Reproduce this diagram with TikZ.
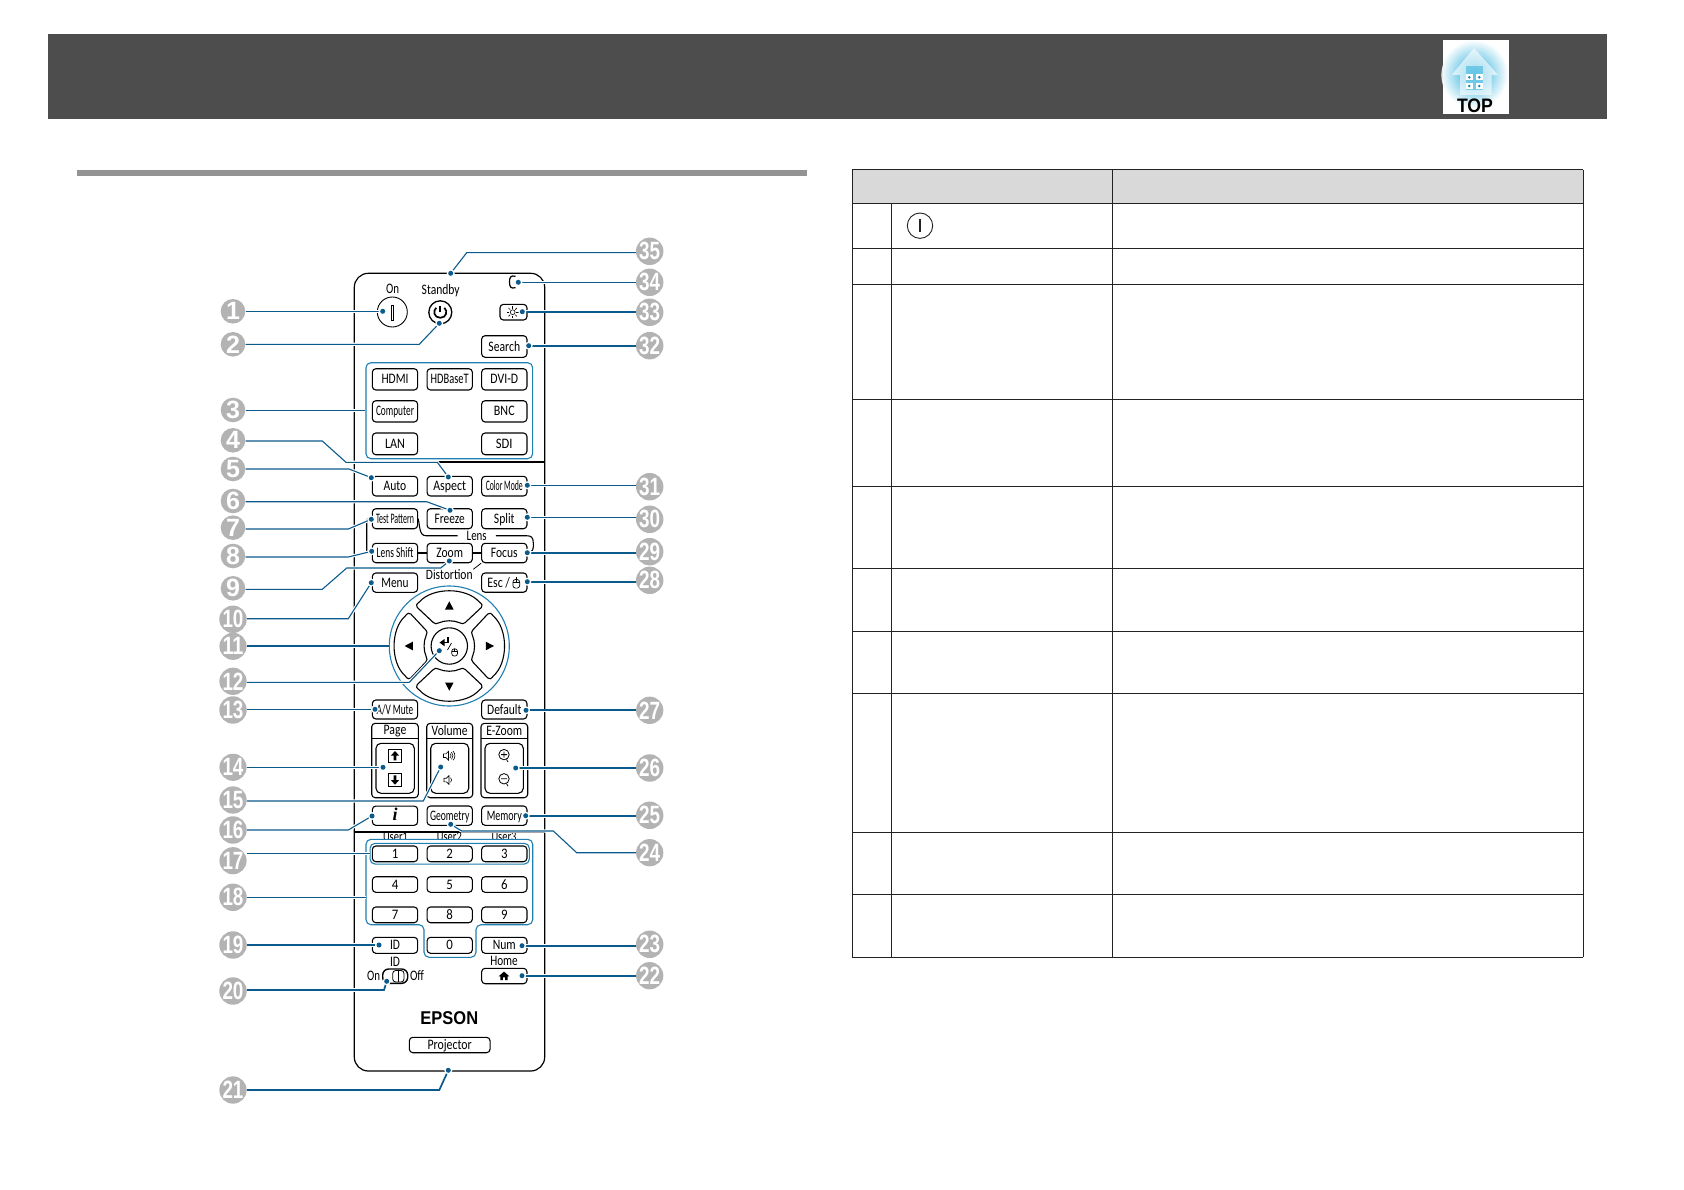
\documentclass[tikz,border=0pt]{standalone}
\usepackage{fontspec}
\setmainfont{Carlito}
\newfontfamily\arialb{Liberation Sans}[BoldFont={Liberation Sans Bold}]
\newfontfamily\serifb{Liberation Serif}
\usetikzlibrary{calc,shapes.geometric}
\definecolor{ldc}{HTML}{0B5A8C}
\definecolor{grpc}{HTML}{1F7FB0}
\definecolor{hdr}{HTML}{4D4D4D}
\definecolor{rulec}{HTML}{939393}
\definecolor{thead}{HTML}{D9D9D9}
\definecolor{tline}{HTML}{222222}
\definecolor{numc}{HTML}{B3B3B3}
\definecolor{topc}{HTML}{18A8D8}
\newcommand\lb[2]{\resizebox{#1pt}{\height}{#2}}
\tikzset{
  wire/.style={draw=black,line width=1.1pt},
  btnbase/.style={draw=black,fill=white,line width=1.1pt,rounded corners=3.5pt,inner sep=0pt,
    font=\fontsize{14.5}{14.5}\selectfont,text height=9pt,text depth=0pt},
  lab/.style={inner sep=0pt,font=\fontsize{14.5}{14.5}\selectfont,text height=9pt,text depth=0pt},
  grp/.style={draw=grpc,line width=1.1pt,rounded corners=5pt,inner sep=0pt},
  leader/.style={draw=ldc,line width=1.1pt,preaction={draw=white,line width=3.2pt}},
  leaderb/.style={draw=ldc,line width=1.7pt,preaction={draw=white,line width=3.6pt}},
  numcirc/.style={circle,fill=numc,minimum size=24.6pt,inner sep=0pt,text=white,
    font=\arialb\bfseries\fontsize{25}{25}\selectfont},
}
% name, centre x, top y, bottom y, width, text width, text
\newcommand\btn[7]{\node[btnbase,minimum width=#5pt,minimum height={#4pt-#3pt}] (#1) at (#2,{(#3+#4)/2}) {\lb{#6}{#7}};}
\newcommand\spk[3]{%
  \begin{scope}[shift={(#1,#2)}]
   \draw[line width=.6pt] (-5,-1.8) -- (-2.6,-1.8) -- (0,-4.4) -- (0,4.4) -- (-2.6,1.8) -- (-5,1.8) -- cycle;
   \draw[line width=.6pt] (1.5,-2.2) .. controls (3,-1) and (3,1) .. (1.5,2.2);
   \ifnum#3>1
   \draw[line width=.6pt] (3,-3.6) .. controls (5,-1.5) and (5,1.5) .. (3,3.6);
   \draw[line width=.6pt] (4.6,-4.6) .. controls (7,-2) and (7,2) .. (4.6,4.6);
   \fi
  \end{scope}}
\newcommand\mouseic[2]{%
  \begin{scope}[shift={(#1,#2)}]
   \draw[line width=.7pt,fill=white,rounded corners=2.6pt] (-3.4,-3.2) rectangle (3.4,5.4);
   \draw[line width=.7pt] (-3.4,0) -- (3.4,0) (0,-3.2) -- (0,0);
   \fill[black] (-.5,-6) rectangle (.5,-2.8);
  \end{scope}}
\begin{document}
\begin{tikzpicture}[x=1pt,y=1pt,yscale=-1]
\useasboundingbox (0,0) rectangle (1684,1190);
\fill[white] (0,0) rectangle (1684,1190);
% header band
\fill[hdr] (48,34) rectangle (1607,118.7);
% TOP icon
\fill[white!88!hdr] (1444,62) .. controls (1440.5,70) and (1440.5,80) .. (1444,88) -- cycle;
\fill[white] (1443,40) rectangle (1509,114);
\begin{scope}
 \clip (1443,40) rectangle (1509,114);
 \shade[inner color=topc,outer color=white] (1474,74) circle (34);
 \fill[white,opacity=.6] (1474,48) -- (1498,75) -- (1491.7,75) -- (1491.7,95) -- (1460,95) -- (1460,75) -- (1451.7,75) -- cycle;
 \fill[topc,opacity=.45] (1466,66) rectangle (1483,90);
 \foreach \wx/\wy in {1469.3/77.3,1479.3/77.3,1469.3/86,1479.3/86}{
   \fill[white] (\wx-3.2,\wy-3.2) rectangle (\wx+3.2,\wy+3.2);
   \fill[topc!80!black] (\wx,\wy) circle (1.4);
 }
\end{scope}
\node[inner sep=0pt,font=\arialb\bfseries\fontsize{19.5}{19.5}\selectfont] (topl) at (1475,106.2) {\lb{36}{TOP}};
% section rule
\fill[rulec] (76.5,170) rectangle (806.7,176);
% table
\fill[thead] (852.3,170) rectangle (1583,204);
\foreach \ty in {170,204,249,285,399,486,568,631,693,832,894,957}
  \draw[tline,line width=1pt] (852.3,\ty) -- (1583,\ty);
\draw[tline,line width=1pt] (852.3,170) -- (852.3,957);
\draw[tline,line width=1pt] (891.3,204) -- (891.3,957);
\draw[tline,line width=1pt] (1112.3,170) -- (1112.3,957);
\draw[tline,line width=1pt] (1583,170) -- (1583,957);
\node[circle,draw=tline,line width=.9pt,minimum size=25.4pt,inner sep=0pt] (tpower) at (920,225.7) {};
\draw[tline,line width=1.1pt] (920,219.5) -- (920,232);
% remote body
\draw[line width=1.2pt,fill=white,rounded corners=14pt] (354.3,273.3) rectangle (544.7,1071);
\draw[line width=1.3pt] (354.3,462) -- (544.7,462);
\draw[line width=1.3pt] (354.3,832) -- (544.7,832);
% top controls
\node[lab] (lon) at (392.7,289) {\lb{13}{On}};
\node[lab] (lst) at (440.7,290) {\lb{38}{Standby}};
\node[circle,draw=black,line width=.9pt,minimum size=30pt,inner sep=0pt] (bon) at (392.3,312) {};
\draw[line width=.7pt] (391,305) rectangle (393.6,320);
\node[circle,draw=black,line width=1.3pt,minimum size=23pt,inner sep=0pt] (bst) at (440.3,312.3) {};
\draw[line width=1.7pt] (444.4,307.8) .. controls (448,311) and (446.5,317.8) .. (440.3,317.8) .. controls (434.1,317.8) and (432.6,311) .. (436.2,307.8);
\draw[line width=1.7pt] (440.3,305.8) -- (440.3,312);
\node[btnbase,minimum width=27pt,minimum height=15.7pt] (bri) at (513.5,312.2) {};
\draw[line width=.6pt] (512.7,312.2) circle (2.4);
\foreach \a in {0,45,...,315} \draw[line width=.6pt] ($(512.7,312.2)+(\a:3.6)$) -- ($(512.7,312.2)+(\a:6)$);
\draw[line width=1.2pt] (515.5,276.3) .. controls (510.5,275) and (509.5,277.5) .. (509.5,282) .. controls (509.5,286.5) and (510.5,289) .. (515.5,287.7);
\btn{sea}{504.3}{335.7}{357.3}{45.3}{31.7}{Search}
% input group
\node[grp,minimum width=166.7pt,minimum height=96pt] (ginp) at (449.3,410.7) {};
\btn{hdmi}{395}{368.7}{390}{45.3}{27}{HDMI}
\btn{hdb}{449.7}{368.7}{390}{45.3}{38}{HDBaseT}
\btn{dvi}{504.3}{368.7}{390}{45.3}{27.7}{DVI-D}
\btn{com}{395}{400.7}{422}{45.3}{38}{Computer}
\btn{bnc}{504.3}{400.7}{422}{45.3}{20.7}{BNC}
\btn{lan}{395}{433}{454.7}{45.3}{20}{LAN}
\btn{sdi}{504.3}{433}{454.7}{45.3}{16.7}{SDI}
% function rows
\btn{auto}{395}{476.3}{496}{45.3}{22.7}{Auto}
\btn{asp}{449.7}{476.3}{496}{45.3}{32.7}{Aspect}
\btn{col}{504.3}{476.3}{496}{45.3}{37}{Color Mode}
\btn{tp}{395}{508.7}{528.7}{45.3}{38}{Test Pattern}
\btn{fre}{449.7}{508.7}{528.7}{45.3}{30}{Freeze}
\btn{spl}{504.3}{508.7}{528.7}{45.3}{20.7}{Split}
\btn{ls}{395}{543.3}{562.7}{45.3}{36.7}{Lens Shift}
\btn{zm}{449.7}{543.3}{562.7}{45.3}{26.7}{Zoom}
\btn{fo}{504.3}{543.3}{562.7}{45.3}{26.7}{Focus}
\btn{men}{395}{573}{592.3}{45.3}{27.3}{Menu}
\node[btnbase,minimum width=45.3pt,minimum height=19.3pt] (esc) at (504.3,582.6) {};
\node[lab] (esct) at (498.7,582.6) {\lb{22.7}{Esc /}};
\mouseic{516.3}{582.7}
\node[lab,minimum width=38pt] (lens) at (476.7,536) {\lb{20}{Lens}};
\node[lab] (dist) at (449.3,575.3) {\lb{46.7}{Distortion}};
\coordinate (dsl) at (473.3,569.3);
\draw[wire] (tp.east) .. controls (420,526) and (419,535.7) .. (426,535.7) -- (lens.west |- 0,535.7);
\draw[wire] (lens.east |- 0,535.7) -- (526,535.7) .. controls (531,535.7) and (533.3,537) .. (533.3,543) -- (533.3,547) .. controls (533.3,551) and (530,553) .. (fo.east);
\draw[wire,rounded corners=2pt] (tp.west) -- (366.7,518.7) -- (366.7,553) -- (ls.west);
\draw[wire] (ls.east) -- (zm.west) (zm.east) -- (fo.west);
\draw[wire,line width=.8pt] (fo.south west) -- (dsl);
% d-pad
\node[circle,draw=grpc,line width=1.1pt,minimum size=120pt,inner sep=0pt] (ring) at (449.3,646) {};
\foreach \r in {0,90,180,270}{
 \begin{scope}[shift={(449.3,646)},rotate=\r]
  \draw[line width=1.1pt,fill=white] (-30,-44) .. controls (-17,-59) and (17,-59) .. (30,-44)
    .. controls (33,-42) and (33.5,-40) .. (32,-38.5) -- (16,-23.5)
    .. controls (14.5,-22) and (12.5,-22) .. (11,-23)
    .. controls (4,-26) and (-4,-26) .. (-11,-23)
    .. controls (-12.5,-22) and (-14.5,-22) .. (-16,-23.5) -- (-32,-38.5)
    .. controls (-33.5,-40) and (-33,-42) .. (-30,-44) -- cycle;
  \fill[black] (-4.3,-36.5) -- (4.3,-36.5) -- (0,-44.7) -- cycle;
 \end{scope}}
\node[circle,draw=black,line width=1.1pt,minimum size=36.4pt,inner sep=0pt] (ent) at (449.3,646) {};
\draw[line width=1.7pt] (448,637) -- (448,642.6) -- (443,642.6);
\fill[black] (444.5,639) -- (444.5,646.2) -- (439.5,642.6) -- cycle;
\draw[line width=.7pt] (447.5,650) -- (451.5,643);
\begin{scope}[shift={(454.6,651.5)},scale=.85]
 \draw[line width=.7pt,rounded corners=2.6pt] (-3.4,-3.2) rectangle (3.4,5.4);
 \draw[line width=.7pt] (-3.4,0) -- (3.4,0) (0,-3.2) -- (0,0);
\end{scope}
% mute / default
\btn{mut}{395}{700}{719}{45.3}{36.7}{A/V Mute}
\btn{def}{504.3}{700}{719}{45.3}{34.3}{Default}
% frames
\draw[line width=1.1pt,rounded corners=3.5pt,fill=white] (371.7,723.3) rectangle (418.3,797.7);
\draw[line width=1.1pt] (371.7,738.7) -- (418.3,738.7);
\node[lab] (lpg) at (395,730) {\lb{22.7}{Page}};
\draw[line width=1.1pt,rounded corners=5pt] (376,743.3) rectangle (414.3,793.3);
\draw[line width=.8pt] (388.6,749.4) rectangle (401.4,762);
\draw[line width=.8pt] (388.6,773.7) rectangle (401.4,786.3);
\fill[black] (395,751) -- (399,755.5) -- (396.4,755.5) -- (396.4,760.4) -- (393.6,760.4) -- (393.6,755.5) -- (391,755.5) -- cycle;
\fill[black] (395,784.7) -- (399,780.2) -- (396.4,780.2) -- (396.4,775.3) -- (393.6,775.3) -- (393.6,780.2) -- (391,780.2) -- cycle;
\draw[line width=1.1pt,rounded corners=3.5pt,fill=white] (426.7,723.3) rectangle (472.7,797.7);
\draw[line width=1.1pt] (426.7,738.7) -- (472.7,738.7);
\node[lab] (lvo) at (449.7,731) {\lb{36}{Volume}};
\draw[line width=1.1pt,rounded corners=5pt] (430.7,743.3) rectangle (468.7,793.3);
\spk{448.5}{755.7}{2}
\spk{449}{780}{1}
\draw[line width=1.1pt,rounded corners=3.5pt,fill=white] (481,723.3) rectangle (527.7,797.7);
\draw[line width=1.1pt] (481,738.7) -- (527.7,738.7);
\node[lab] (lez) at (504.3,731) {\lb{36}{E-Zoom}};
\draw[line width=1.1pt,rounded corners=5pt] (485,743.3) rectangle (523.3,793.3);
\draw[line width=.8pt] (504,754.6) circle (5.2);
\draw[line width=.8pt] (501,754.6) -- (507,754.6) (504,751.6) -- (504,757.6) (506.5,759.4) -- (508,762);
\draw[line width=.8pt] (504,778.8) circle (5.2);
\draw[line width=.8pt] (501,778.8) -- (507,778.8) (506.5,783.6) -- (508,786.2);
% info row
\node[btnbase,minimum width=45.3pt,minimum height=19.3pt] (inf) at (395,815.7) {\serifb\bfseries\itshape\fontsize{18}{18}\selectfont i};
\btn{geo}{449.7}{806}{825.3}{45.3}{39.3}{Geometry}
\btn{mem}{504.3}{806}{825.3}{45.3}{35}{Memory}
% user labels and numeric group
\node[lab] (u1) at (395.5,837.2) {\lb{25}{User1}};
\node[lab] (u2) at (449.3,837.2) {\lb{25}{User2}};
\node[lab] (u3) at (504,837.2) {\lb{25}{User3}};
\draw[draw=grpc,line width=1.1pt,fill=white,rounded corners=5pt] (366,839.3) -- (532.7,839.3) -- (532.7,924.7) -- (476,924.7) -- (476,957.3) -- (424,957.3) -- (424,924.7) -- (366,924.7) -- cycle;
\node[grp,minimum width=159.3pt,minimum height=20.7pt] (g17) at (449.7,853.7) {};
\coordinate (e18) at (366,897.3);
\foreach \nm/\cx/\ya/\yb in {1/395/846/861.7,2/449.7/846/861.7,3/504.3/846/861.7,4/395/876.7/892.3,5/449.7/876.7/892.3,6/504.3/876.7/892.3,7/395/907/922.7,8/449.7/907/922.7,9/504.3/907/922.7,0/449.7/937.3/953.3}{
  \btn{k\nm}{\cx}{\ya}{\yb}{45.3}{6.5}{\nm}
}
\btn{idb}{395}{937.3}{953.3}{45.3}{10}{ID}
\btn{num}{504.3}{937.3}{953.3}{45.3}{23}{Num}
\node[lab] (lho) at (504,961) {\lb{27.5}{Home}};
\node[btnbase,minimum width=45.3pt,minimum height=15.4pt] (hom) at (504.3,976) {};
\fill[black] (504,971.6) -- (509.4,976.4) -- (507.6,976.4) -- (507.6,980) -- (505.2,980) -- (505.2,977.4) -- (502.8,977.4) -- (502.8,980) -- (500.4,980) -- (500.4,976.4) -- (498.6,976.4) -- cycle;
\node[lab] (lid) at (395,962.3) {\lb{10}{ID}};
\node[lab] (lsn) at (373.7,975.7) {\lb{13}{On}};
\node[lab] (lsf) at (417,975.7) {\lb{14}{Off}};
\draw[line width=1.4pt,fill=white,rounded corners=6pt] (382.7,969) rectangle (407.7,983.3);
\draw[line width=.8pt,rounded corners=3pt] (392.7,970.5) rectangle (404,982);
\draw[line width=.8pt] (398.7,970.5) -- (398.7,982);
% logo
\node[inner sep=0pt,font=\arialb\bfseries\fontsize{18.5}{18.5}\selectfont] (logo) at (449.3,1018.3) {\lb{57.7}{EPSON}};
\btn{prj}{449.7}{1037.3}{1052.7}{80.7}{44.3}{Projector}
% number discs
\foreach \i/\y in {1/311.3,2/344.3,3/410,4/440.3,5/469,6/501,7/527.7,8/556,9/588.3,10/619.3,11/646.3,12/681.3,13/710,14/767.3,15/800,16/830,17/860.7,18/897.3,19/945,20/991,21/1090}{
  \node[numcirc] (n\i) at (233,\y) {\ifnum\i>9 \lb{21}{\i}\else\i\fi};
}
\foreach \i/\y in {22/975.7,23/944.3,24/852.7,25/815.3,26/768,27/710.3,28/580.3,29/551.7,30/519.3,31/486.7,32/345.7,33/312.3,34/282.3,35/251.3}{
  \node[numcirc] (n\i) at (649.7,\y) {\lb{21}{\i}};
}
% leader ends
\def\dotlist{1/382.7/311.3,2/439.3/323.3,4/448.3/477,5/371.3/477.7,6/450/510.3,7/371.3/519.3,8/371.7/551.3,9/449.3/561,10/371.3/582.7,12/439.3/650.7,13/375/709.3,14/383/767.3,15/440.7/767,16/372/816,19/379/945,20/386.7/981.3,21/448.3/1070.3,22/522/975.7,23/522/945.7,24/450.7/824.3,25/525.7/815.7,26/515.7/768,27/526/710.3,28/527.3/581.7,29/527.3/552.7,30/527.3/517.3,31/527.3/485.3,32/528.7/345.7,33/522.3/311.7,34/518.3/282.3,35/450.7/273.3}
\foreach \i/\x/\y in \dotlist {\coordinate (d\i) at (\x,\y);}
% leaders, left side
\draw[leader] (n1.east |- d1) -- (d1);
\coordinate (k2) at (419.3,344.3);
\draw[leader] (n2.east |- k2) -- (k2) -- (d2);
\draw[leader] (n3.east |- ginp.west) -- (ginp.west);
\coordinate (k4a) at (322.3,441); \coordinate (k4b) at (346,462.3); \coordinate (k4c) at (437.3,462.3);
\draw[leader] (n4.east |- k4a) -- (k4a) -- (k4b) -- (k4c) -- (d4);
\coordinate (k5) at (349,469);
\draw[leader] (n5.east |- k5) -- (k5) -- (d5);
\coordinate (k6) at (426.7,501.7);
\draw[leader] (n6.east |- k6) -- (k6) -- (d6);
\coordinate (k7) at (348.3,529);
\draw[leader] (n7.east |- k7) -- (k7) -- (d7);
\coordinate (k8) at (348.3,557);
\draw[leader] (n8.east |- k8) -- (k8) -- (d8);
\coordinate (k9a) at (322.3,589.3); \coordinate (k9b) at (346.7,568); \coordinate (k9c) at (440.7,568);
\draw[leader] (n9.east |- k9a) -- (k9a) -- (k9b) -- (k9c) -- (d9);
\coordinate (k10) at (348.3,618.7);
\draw[leader] (n10.east |- k10) -- (k10) -- (d10);
\draw[leader] (n11.east |- ring.west) -- (ring.west);
\coordinate (k12) at (409.3,682.3);
\draw[leader] (n12.east |- k12) -- (k12) -- (d12);
\draw[leader] (n13.east |- d13) -- (d13);
\draw[leader] (n14.east |- d14) -- (d14);
\coordinate (k15) at (423.3,801);
\draw[leader] (n15.east |- k15) -- (k15) -- (d15);
\coordinate (k16) at (348.3,830);
\draw[leader] (n16.east |- k16) -- (k16) -- (d16);
\draw[leader] (n17.east |- g17.west) -- (g17.west);
\draw[leader] (n18.east |- e18) -- (e18);
\draw[leader] (n19.east |- d19) -- (d19);
\coordinate (k20) at (384,990);
\draw[leaderb] (n20.east |- k20) -- (k20) -- (d20);
\coordinate (k21) at (439.3,1090);
\draw[leaderb] (n21.east |- k21) -- (k21) -- (d21);
% leaders, right side
\draw[leaderb] (n22.west |- d22) -- (d22);
\draw[leaderb] (n23.west |- d23) -- (d23);
\coordinate (k24a) at (576.7,852.7); \coordinate (k24b) at (553.3,831); \coordinate (k24c) at (461.7,831);
\draw[leader] (n24.west |- k24a) -- (k24a) -- (k24b) -- (k24c) -- (d24);
\draw[leaderb] (n25.west |- d25) -- (d25);
\draw[leader] (n26.west |- d26) -- (d26);
\draw[leaderb] (n27.west |- d27) -- (d27);
\draw[leaderb] (n28.west |- d28) -- (d28);
\draw[leaderb] (n29.west |- d29) -- (d29);
\draw[leader] (n30.west |- d30) -- (d30);
\draw[leader] (n31.west |- d31) -- (d31);
\draw[leaderb] (n32.west |- d32) -- (d32);
\draw[leaderb] (n33.west |- d33) -- (d33);
\draw[leader] (n34.west |- d34) -- (d34);
\coordinate (k35) at (466.7,252.7);
\draw[leader] (n35.west |- k35) -- (k35) -- (d35);
% dots
\foreach \i/\x/\y in \dotlist {
  \fill[white] (d\i) circle (4);
  \fill[ldc] (d\i) circle (2.5);
}
\end{tikzpicture}
\end{document}
